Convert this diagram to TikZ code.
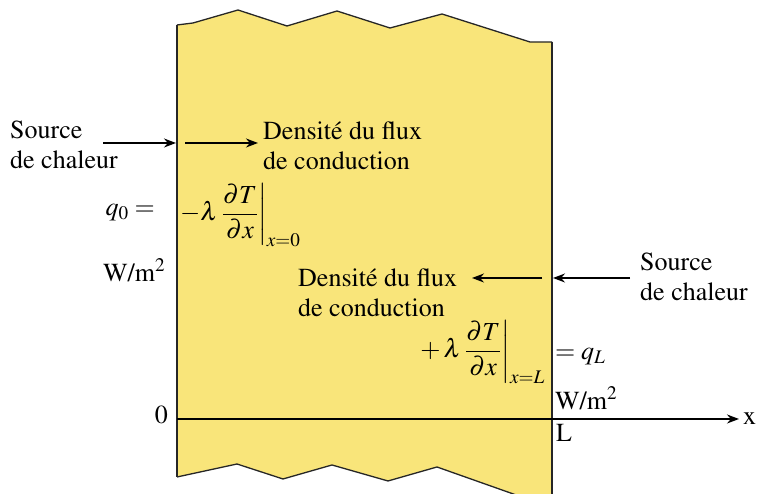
\documentclass[tikz,border=0pt]{standalone}
\usepackage[T1]{fontenc}
\usepackage{amsmath}
\usepackage{mathptmx}
\usetikzlibrary{arrows.meta}
\definecolor{slab}{RGB}{249,229,122}
\begin{document}
\begin{tikzpicture}[x=1pt,y=1pt,>={Stealth[length=12pt,width=9pt]},
    txt/.style={inner sep=0pt,align=left,font=\fontsize{26}{30}\selectfont},
    edge/.style={line width=1.3pt,black!85},
    flux/.style={->,line width=1.4pt}]
    \useasboundingbox (0,0) rectangle (758,494);
    % the slab, cut off at top and bottom
    \begin{scope}
        \clip (0,0) rectangle (758,494);
        \fill[slab] (177,469) -- (193,471) -- (238,484) -- (287,468) -- (337,483) -- (390,466)
            -- (442,480) -- (530,452) -- (552,452) -- (552,-8) -- (536,-8) -- (437,27)
            -- (388,13) -- (332,29) -- (283,15) -- (237,30) -- (177,17) -- cycle;
        \draw[edge] (177,469) -- (193,471) -- (238,484) -- (287,468) -- (337,483) -- (390,466)
            -- (442,480) -- (530,452) -- (552,452);
        \draw[edge] (177,17) -- (237,30) -- (283,15) -- (332,29) -- (388,13) -- (437,27) -- (536,-8);
        \draw[edge] (177,469) -- (177,17);
        \draw[edge] (552,452) -- (552,-8);
    \end{scope}
    % left face
    \node[txt,anchor=west] (srcL) at (10,349) {Source\\de chaleur};
    \coordinate (wallL) at (176,351);
    \coordinate (inL) at (185,351);
    \coordinate (tipL) at (258,351);
    \node[txt,anchor=west] (fluxL) at (263,348) {Densit\'e du flux\\de conduction};
    \draw[flux] (103,351) -- (wallL);
    \draw[flux] (inL) -- (tipL);
    \node[txt,anchor=east] (q0) at (155,281) {$q_0 =$};
    \node[txt,anchor=west] (gradL) at (180,279) {$-\lambda\left.\dfrac{\partial T}{\partial x}\right|_{x=0}$};
    \node[txt,anchor=west] (unitL) at (103,224) {W/m$^2$};
    % right face
    \node[txt,anchor=west] (srcR) at (640,217) {Source\\de chaleur};
    \coordinate (wallR) at (553,216);
    \coordinate (inR) at (542,216);
    \coordinate (tipR) at (472,216);
    \node[txt,anchor=west] (fluxR) at (298,201) {Densit\'e du flux\\de conduction};
    \draw[flux] (630,216) -- (wallR);
    \draw[flux] (inR) -- (tipR);
    \node[txt,anchor=east] (gradR) at (545,142) {$+\,\lambda\left.\dfrac{\partial T}{\partial x}\right|_{x=L}$};
    \node[txt,anchor=west] (qL) at (555,137) {$= q_L$};
    \node[txt,anchor=west] (unitR) at (555,96) {W/m$^2$};
    % axis
    \coordinate (o) at (177,75);
    \coordinate (xend) at (739,75);
    \draw[->,line width=1.5pt] (o) -- (xend);
    \node[txt,anchor=east] (zero) at (168,79) {0};
    \node[txt,anchor=west] (xlab) at (743,75) {x};
    \node[txt,anchor=north west] (Llab) at (556,70) {L};
\end{tikzpicture}
\end{document}
